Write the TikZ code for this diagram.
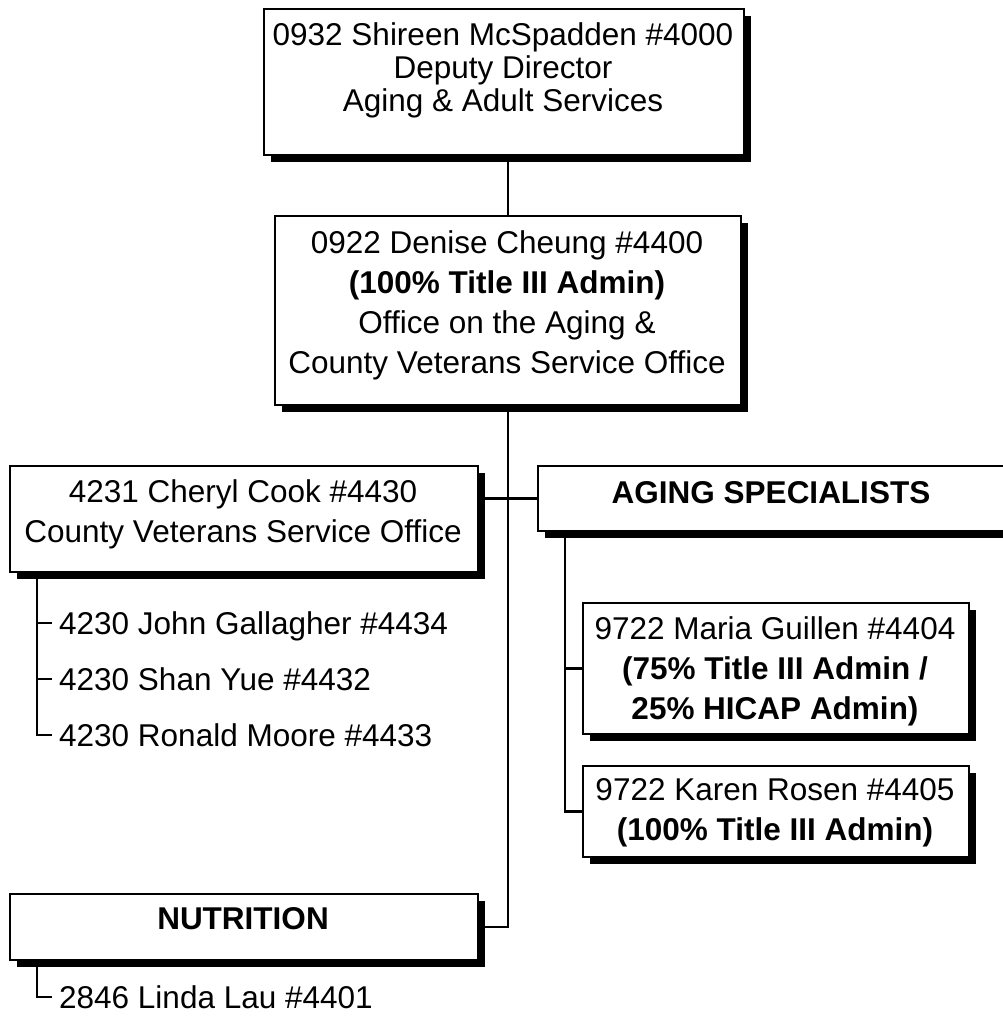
\documentclass[tikz,border=0pt]{standalone}
\usepackage{fontspec}
\setmainfont{Liberation Sans}
\usetikzlibrary{shadows}

\begin{document}
\begin{tikzpicture}[x=1pt,y=-1pt,line width=2.4pt]
    \tikzstyle{box}=[draw=black, line width=2.2pt, fill=white, rectangle, inner sep=0pt, anchor=north west,
                     drop shadow={shadow xshift=6.5pt, shadow yshift=-6.5pt, fill=black, opacity=1}]
    \tikzstyle{txt}=[inner sep=0pt, anchor=north, align=center, font=\fontsize{31.5}{40}\selectfont]
    \tikzstyle{item}=[inner sep=0pt, anchor=west, text height=23pt, text depth=0pt, font=\fontsize{31.5}{40}\selectfont]

    \useasboundingbox (0,0) rectangle (1002,1019);

    % boxes
    \node[box, minimum width=480pt, minimum height=146pt] (dir)    at (263,8)   {};
    \node[box, minimum width=466pt, minimum height=189pt] (oa)     at (274,215) {};
    \node[box, minimum width=468pt, minimum height=106pt] (cvso)   at (9,465)   {};
    \node[box, minimum width=468pt, minimum height=65pt]  (spec)   at (537,465) {};
    \node[box, minimum width=386pt, minimum height=131pt] (maria)  at (582,602) {};
    \node[box, minimum width=386pt, minimum height=91pt]  (karen)  at (582,765) {};
    \node[box, minimum width=468pt, minimum height=66pt]  (nutr)   at (9,893)   {};

    % box texts
    \node[txt, font=\fontsize{31.5}{33}\selectfont] at (503,21) {0932 Shireen McSpadden \#4000\\Deputy Director\\Aging \& Adult Services};
    \node[txt] at (507,229) {0922 Denise Cheung \#4400\\\textbf{(100\% Title III Admin)}\\Office on the Aging \&\\County Veterans Service Office};
    \node[txt] at (243,478) {4231 Cheryl Cook \#4430\\County Veterans Service Office};
    \node[txt] at (771,480) {\textbf{AGING SPECIALISTS}};
    \node[txt] at (775,615) {9722 Maria Guillen \#4404\\\textbf{(75\% Title III Admin /}\\\textbf{25\% HICAP Admin)}};
    \node[txt] at (775,777) {9722 Karen Rosen \#4405\\\textbf{(100\% Title III Admin)}};
    \node[txt] at (243,906) {\textbf{NUTRITION}};

    % staff lists
    \node[item] (john)   at (58,623)  {4230 John Gallagher \#4434};
    \node[item] (shan)   at (58,679)  {4230 Shan Yue \#4432};
    \node[item] (ronald) at (58,735)  {4230 Ronald Moore \#4433};
    \node[item] (linda)  at (58,997)  {2846 Linda Lau \#4401};

    % connectors
    \draw (oa.north |- dir.south) -- (oa.north);
    \draw (oa.south) |- (nutr.east);
    \draw (cvso.east |- spec.west) -- (spec.west);
    \draw ([xshift=28pt]spec.south west) |- (maria.west);
    \draw ([xshift=28pt]spec.south west) |- (karen.west);
    \draw ([xshift=28pt]cvso.south west) |- ([xshift=-6pt]john.west);
    \draw ([xshift=28pt]cvso.south west |- shan.west) -- ([xshift=-6pt]shan.west);
    \draw ([xshift=28pt]cvso.south west) |- ([xshift=-6pt]ronald.west);
    \draw ([xshift=28pt]nutr.south west) |- ([xshift=-6pt]linda.west);
\end{tikzpicture}
\end{document}
